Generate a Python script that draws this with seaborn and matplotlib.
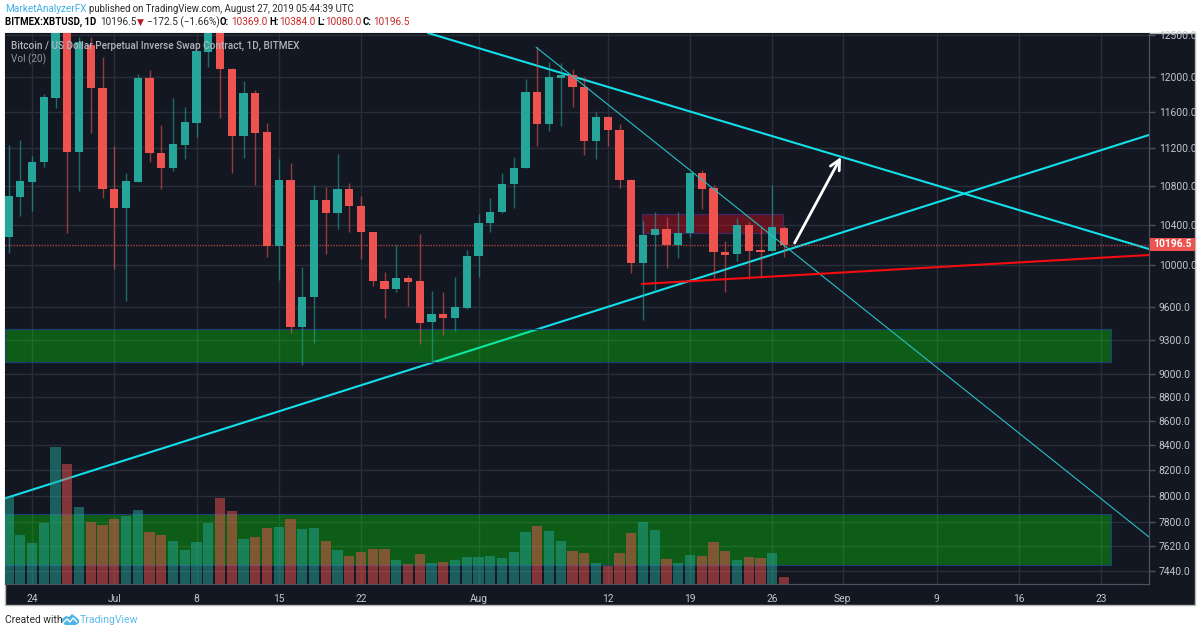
#Recreate the XBTUSD daily chart from TradingView
import numpy as np
import pandas as pd
import matplotlib
matplotlib.use('Agg')
import matplotlib.pyplot as plt
from matplotlib.patches import Rectangle, Polygon
from matplotlib.ticker import NullLocator
from matplotlib.lines import Line2D
import seaborn as sns

#Daily candles, day 0 is June 22 2019
open_prices = [10278, 10685, 10840, 11052, 11759, 12900, 11160, 12376, 11873, 10767, 10572, 10840, 11988, 11149, 10988, 11235, 11480,
               12293, 12800, 12093, 11334, 11815, 11378, 10189, 10861, 9420, 9698, 10653, 10520, 10767, 10592, 10328, 9850, 9774,
               9878, 9850, 9466, 9540, 9503, 9595, 10090, 10419, 10530, 10819, 10988, 11827, 11469, 11988, 12023, 11885, 11279,
               11547, 11400, 10861, 10022, 10298, 10358, 10199, 10318, 10935, 10778, 10129, 10110, 10399, 10149, 10139, 10369]
high_prices = [11235, 11290, 11116, 11804, 13000, 13200, 12474, 12474, 12234, 11225, 10935, 12035, 12081, 11458, 11759, 11658, 12306,
               13000, 12900, 12105, 11954, 11850, 11480, 11084, 11042, 9984, 10809, 10788, 11138, 10830, 10695, 10328, 9936, 10199,
               9907, 10308, 9755, 9745, 9888, 10149, 10510, 10674, 10935, 11106, 11977, 12351, 12175, 12163, 12093, 12000, 11602,
               11558, 11469, 10872, 10439, 10530, 10479, 10530, 10946, 10967, 10809, 10238, 10469, 10429, 10378, 10809, 10384]
low_prices = [10120, 10489, 10540, 10999, 11647, 10318, 10746, 11367, 10674, 9965, 9660, 10840, 11052, 10767, 10957, 11084, 11323,
              12117, 11536, 10935, 11095, 10809, 10080, 9859, 9366, 9080, 9276, 10110, 10358, 10328, 10061, 9802, 9503, 9745,
              9614, 9267, 9098, 9348, 9384, 9586, 9888, 10328, 10520, 10572, 10988, 11225, 11389, 11447, 11658, 11127, 11084,
              11225, 10778, 9926, 9484, 9745, 9974, 10071, 10278, 10561, 9869, 9745, 10042, 9869, 9878, 10139, 10080]
close_prices = [10695, 10851, 11052, 11770, 12900, 11160, 12413, 11873, 10767, 10572, 10851, 11988, 11149, 10988, 11246, 11491, 12306,
                12800, 12093, 11334, 11815, 11367, 10189, 10861, 9420, 9698, 10653, 10520, 10767, 10592, 10328, 9850, 9774, 9878,
                9840, 9457, 9540, 9503, 9605, 10090, 10419, 10530, 10819, 10988, 11827, 11469, 12000, 12023, 11885, 11279, 11547,
                11400, 10861, 10022, 10298, 10358, 10199, 10318, 10935, 10767, 10129, 10100, 10399, 10139, 10129, 10378, 10196.5]
#Volume in billions of contracts
volumes = [3.48, 1.96, 1.64, 2.44, 5.48, 4.80, 3.08, 2.48, 2.36, 2.60, 2.72, 2.96, 2.08, 1.96, 1.72, 1.36, 1.68,
           2.44, 3.44, 2.92, 1.80, 1.88, 2.24, 2.28, 2.60, 2.20, 2.24, 1.72, 1.36, 1.12, 1.28, 1.40, 1.40, 0.96,
           0.80, 1.20, 0.84, 0.88, 0.96, 1.08, 1.08, 1.12, 1.04, 1.28, 2.08, 2.32, 2.12, 1.72, 1.32, 1.24, 0.84,
           0.72, 1.24, 2.04, 2.48, 2.16, 1.00, 0.84, 1.16, 1.12, 1.68, 1.32, 0.96, 1.08, 1.04, 1.24, 0.28]

#Axis ticks
price_ticks = [12500, 12000, 11600, 11200, 10800, 10400, 10000, 9600, 9300, 9000, 8800, 8600, 8400, 8200, 8000, 7800, 7620, 7440]
date_ticks = [2, 9, 16, 23, 30, 40, 51, 58, 65, 71, 79, 86, 93]
date_labels = ['24', 'Jul', '8', '15', '22', 'Aug', '12', '19', '26', 'Sep', '9', '16', '23']
last_price = 10196.5

#Drawings on the chart (day, price)
resistance_days = [35.7, 97.06]
resistance_prices = [12522, 10159]
support_days = [-0.3, 97.06]
support_prices = [7980, 11345]
fast_days = [44.9, 97.06]
fast_prices = [12351, 7687]
red_days = [53.9, 97.06]
red_prices = [9821, 10100]
arrow_start = (66.9, 10218)
arrow_tip = (70.85, 11106)
upper_zone = [-0.3, 93.83, 9107, 9402]
lower_zone = [-0.3, 93.83, 7482, 7861]
red_zone = [53.9, 65.9, 10318, 10510]

W, H = 1200, 633
BG = '#131722'
GRID = '#2a2e39'
TEAL = '#26a69a'
RED = '#ef5350'
AXIS_TEXT = '#c3c6ce'
BLUE = '#3fb0e6'
DARK = '#2b2b2b'

sns.set_style('dark', {'axes.facecolor': BG, 'grid.color': GRID})
plt.rcParams['font.family'] = ['Roboto', 'DejaVu Sans']

df = pd.DataFrame({'day': np.arange(len(open_prices)), 'open': open_prices, 'high': high_prices,
                   'low': low_prices, 'close': close_prices, 'volume': volumes})
df['direction'] = np.where(df['close'] >= df['open'], 'up', 'down')
colors = df['direction'].map({'up': TEAL, 'down': RED})

fig = plt.figure(figsize=(12, 6.33), dpi=100, facecolor='white')
fig.add_artist(Rectangle((5/W, 1-605/H), 1190/W, 572/H, transform=fig.transFigure, fc=BG, ec='#b8b8b8', lw=1, zorder=-1))

ax = fig.add_axes([5/W, 1-584/H, 1144/W, 551/H])
ax.set_yscale('log')

#Zones sit over the lines and under the candles
for zone in [upper_zone, lower_zone]:
    ax.add_patch(Rectangle((zone[0], zone[2]), zone[1]-zone[0], zone[3]-zone[2],
                           fc=(0, 1, 0, 0.3), ec='#1c3f78', lw=0.8, zorder=3))
ax.add_patch(Rectangle((red_zone[0], red_zone[2]), red_zone[1]-red_zone[0], red_zone[3]-red_zone[2],
                       fc=(0.9, 0.04, 0.12, 0.38), ec='#3b2a6b', lw=0.8, zorder=3))

#Trend lines
sns.lineplot(x=resistance_days, y=resistance_prices, color='#12dfe8', lw=1.5, ax=ax, zorder=2)
sns.lineplot(x=support_days, y=support_prices, color='#12dfe8', lw=1.5, ax=ax, zorder=2)
sns.lineplot(x=fast_days, y=fast_prices, color='#27bfc4', lw=0.8, ax=ax, zorder=5)
sns.lineplot(x=red_days, y=red_prices, color='#f50c10', lw=1.5, ax=ax, zorder=5)

#Candles
ax.vlines(df['day'], df['low'], df['high'], colors=colors, lw=1, alpha=0.6, zorder=4)
ax.bar(df['day'], np.abs(df['close']-df['open']), bottom=df[['open', 'close']].min(axis=1),
       width=0.7, color=colors, zorder=4.5, lw=0)

ax.axhline(last_price, color=RED, lw=1, ls=(0, (1, 1)), alpha=0.7, zorder=2.5)
ax.annotate('', xy=arrow_tip, xytext=arrow_start, zorder=6,
            arrowprops=dict(arrowstyle='->', color='white', lw=2, mutation_scale=18, shrinkA=0, shrinkB=0))

ax.set_ylim(7345, 12522)
ax.set_yticks(price_ticks)
ax.set_yticklabels([f'{p:.1f}' for p in price_ticks])
ax.yaxis.set_minor_locator(NullLocator())
ax.grid(True, which='major', color=GRID, lw=1)
ax.set_axisbelow(True)

#Volume goes on its own axis so the bars sit over everything else
vol_ax = ax.twinx()
sns.barplot(data=df, x='day', y='volume', hue='direction', hue_order=['up', 'down'], palette={'up': TEAL, 'down': RED},
            native_scale=True, dodge=False, width=0.88, saturation=1, alpha=0.5, lw=0, legend=False, ax=vol_ax)
vol_ax.set_ylim(0, 551/25)
vol_ax.set_yticks([])
vol_ax.set_ylabel('')
vol_ax.set_xlabel('')
vol_ax.grid(False)

ax.set_xlim(-0.3, 97.06)
ax.set_xticks(date_ticks)
ax.set_xticklabels(date_labels)
ax.set_xlabel('')
ax.set_ylabel('')
ax.yaxis.tick_right()
ax.tick_params(axis='y', which='major', length=4, width=1, color='#4c525e', labelcolor=AXIS_TEXT, labelsize=7.4, pad=3)
ax.tick_params(axis='x', which='major', length=4, width=1, color='#4c525e', labelcolor=AXIS_TEXT, labelsize=7.4, pad=3)
for a in [ax, vol_ax]:
    a.spines['top'].set_visible(False)
    a.spines['left'].set_visible(False)
    a.spines['right'].set_color('#4c525e')
    a.spines['bottom'].set_color('#4c525e')

#Last price tag
fig.add_artist(Rectangle((1150/W, 1-251/H), 45/W, 13/H, transform=fig.transFigure, fc=RED, ec='none', zorder=5))


def put(x, y, s, **kw):
    kw.setdefault('va', 'center')
    kw.setdefault('fontsize', 7.2)
    return fig.text(x/W, 1-y/H, s, **kw)


put(1172, 244.5, '10196.5', color='white', ha='center', fontweight='bold', fontsize=7.4, zorder=6)

#Legend texts inside the panel
put(11, 45.5, 'Bitcoin / US Dollar Perpetual Inverse Swap Contract, 1D, BITMEX', color='#b2b5be', zorder=6, fontweight='medium')
put(11, 59, 'Vol (20)', color='#9598a1', zorder=6)

#Header
put(5, 9, 'MarketAnalyzerFX', color=BLUE)
put(89, 9, 'published on TradingView.com, August 27, 2019 05:44:39 UTC', color=DARK, fontsize=6.9)
put(5, 22, 'BITMEX:XBTUSD, 1D', color='black', fontweight='bold', fontsize=6.9)
put(100, 22, '10196.5', color=DARK)
put(137, 22, '▼', color='#b71c1c', fontsize=6.5)
put(147, 22, '−172.5 (−1.66%)', color=DARK)
for x_key, key, x_val, val in [(220, 'O:', 231, '10369.0'), (269, 'H:', 279, '10384.0'),
                               (317, 'L:', 325, '10080.0'), (363, 'C:', 373, '10196.5')]:
    put(x_key, 22, key, color='black', fontweight='bold', fontsize=6.9)
    put(x_val, 22, val, color='#c62828')

#Footer with the logo
put(5, 620, 'Created with', color=DARK, fontsize=7.4)
put(80, 620, 'TradingView', color='#5cbcec', fontsize=7.6)
cloud = [(62, 622), (62, 619), (66, 616), (69, 617), (72, 614), (76, 617), (79, 620), (79, 623), (76, 625), (65, 625)]
fig.add_artist(Polygon([(x/W, 1-y/H) for x, y in cloud], closed=True, transform=fig.transFigure, fc='#4db4e6', ec='none'))
zig = [(63, 623), (67, 619), (70, 622), (73, 618), (77, 622)]
fig.add_artist(Line2D([x/W for x, y in zig], [1-y/H for x, y in zig], transform=fig.transFigure, color='white', lw=1))

fig.savefig('out.png', dpi=100)
